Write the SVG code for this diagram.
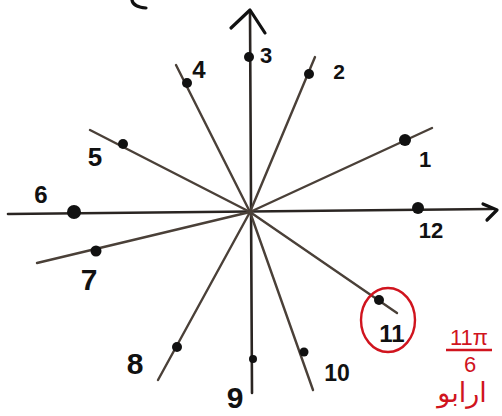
<svg xmlns="http://www.w3.org/2000/svg" width="502" height="416" viewBox="0 0 502 416">
<style>
.ln{fill:none;stroke:#4a4038;stroke-width:2.4;stroke-linecap:round;stroke-linejoin:round}
.ax{fill:none;stroke:#2a2522;stroke-width:2.6;stroke-linecap:round;stroke-linejoin:round}
.ah{fill:none;stroke:#111;stroke-width:3.2;stroke-linecap:round;stroke-linejoin:round}
.dot{fill:#111}
.lb{font-family:"Liberation Sans",Arial,sans-serif;font-weight:bold;fill:#111;text-anchor:middle}
.red{fill:#d0141e;font-family:"Liberation Sans",Arial,sans-serif;text-anchor:middle}
</style>
<rect width="502" height="416" fill="#fff"/>
<path class="ah" d="M132,0 Q133,7 146,8"/>
<g id="connectors">
<path class="ax" d="M8,214 L492,209"/>
<path class="ah" d="M483,204 L497,210 L487,220"/>
<path class="ax" d="M250,12 L252,393"/>
<path class="ah" d="M231,28 L250,10 L265,33"/>
<path class="ln" d="M176,65 L250,212 L313,390"/>
<path class="ln" d="M315,57 L250,212 L158,380"/>
<path class="ln" d="M432,128 L250,212 L37,263"/>
<path class="ln" d="M90,130 L250,212 L397,313"/>
</g>
<g id="n1"><circle class="dot" cx="405" cy="140" r="6"/><text class="lb" x="425" y="167" font-size="22">1</text></g>
<g id="n2"><circle class="dot" cx="309" cy="74" r="5"/><text class="lb" x="339" y="79" font-size="21">2</text></g>
<g id="n3"><circle class="dot" cx="249" cy="57" r="5"/><text class="lb" x="266" y="63" font-size="22">3</text></g>
<g id="n4"><circle class="dot" cx="187" cy="83" r="5"/><text class="lb" x="199" y="78" font-size="24">4</text></g>
<g id="n5"><circle class="dot" cx="123" cy="144" r="5"/><text class="lb" x="95" y="166" font-size="26">5</text></g>
<g id="n6"><circle class="dot" cx="74" cy="212" r="7"/><text class="lb" x="41" y="203" font-size="24">6</text></g>
<g id="n7"><circle class="dot" cx="96" cy="251" r="5.5"/><text class="lb" x="89" y="290" font-size="30">7</text></g>
<g id="n8"><circle class="dot" cx="177" cy="347" r="5"/><text class="lb" x="135" y="374" font-size="30">8</text></g>
<g id="n9"><circle class="dot" cx="253" cy="359" r="4"/><text class="lb" x="235" y="408" font-size="30">9</text></g>
<g id="n10"><circle class="dot" cx="304" cy="352" r="4.5"/><text class="lb" x="337" y="381" font-size="23">10</text></g>
<g id="n11"><circle class="dot" cx="379" cy="300" r="5"/><ellipse cx="388" cy="320" rx="27" ry="32" fill="none" stroke="#d0141e" stroke-width="2.4"/><text class="lb" x="392" y="342" font-size="24">11</text></g>
<g id="n12"><circle class="dot" cx="418" cy="208" r="6"/><text class="lb" x="431" y="238" font-size="22">12</text></g>
<g id="note">
<text class="red" x="469" y="345" font-size="22">11π</text>
<path d="M446,350 L492,350" stroke="#d0141e" stroke-width="2.4" fill="none"/>
<text class="red" x="470" y="372" font-size="22">6</text>
<text x="462" y="402" font-size="27" fill="#d0141e" text-anchor="middle" direction="rtl" font-family="'DejaVu Sans',sans-serif">ارابو</text>
</g>
</svg>
